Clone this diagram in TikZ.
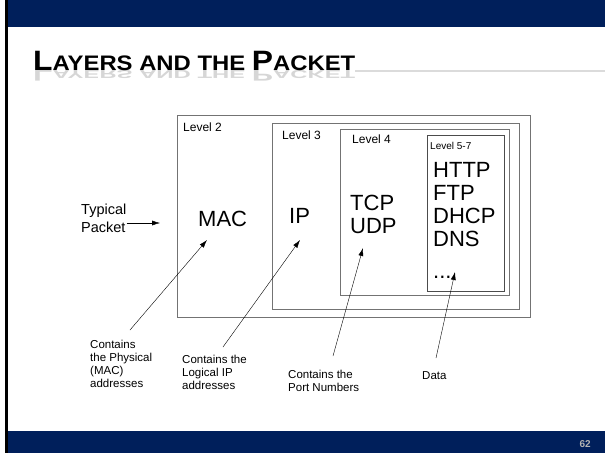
\documentclass[tikz,border=0pt]{standalone}
\usepackage{fontspec}
\setmainfont{Liberation Sans}
\usetikzlibrary{arrows.meta, positioning}
\definecolor{slidenavy}{RGB}{0,31,91}
\tikzstyle{layer}=[draw=black!55, line width=0.9pt]
\tikzstyle{lvl}=[anchor=base west, inner sep=0pt, font=\fontsize{12}{12}\selectfont]
\tikzstyle{proto}=[anchor=base west, inner sep=0pt, align=left, font=\fontsize{22}{23}\selectfont]
\tikzstyle{note}=[anchor=base west, inner sep=0pt, align=left, font=\fontsize{11.5}{13}\selectfont]
\tikzstyle{pointer}=[-{Latex[length=8pt,width=5pt]}, line width=0.4pt]
\newcommand{\titletext}{{\fontsize{28}{28}\selectfont L}AYERS AND THE {\fontsize{28}{28}\selectfont P}ACKET}

\begin{document}
\begin{tikzpicture}[x=1pt,y=-1pt]
    \useasboundingbox (0,0) rectangle (605,453);
    \fill[white] (0,0) rectangle (605,453);
    \fill[slidenavy] (5,0) rectangle (605,27);
    \fill[slidenavy] (5,431) rectangle (605,453);
    \fill[black] (5,0) rectangle (7.5,453);

    \node[anchor=base west, inner sep=0pt, text=black!16, font=\bfseries\fontsize{21}{21}\selectfont] (titlerefl) at (33,70.5) {\scalebox{1.136}[-0.55]{\titletext}};
    \node[anchor=base west, inner sep=0pt, font=\bfseries\fontsize{21}{21}\selectfont] (title) at (33,70) {\scalebox{1.136}[1]{\titletext}};
    \draw[black!14, line width=2pt] (title.base east) ++(0,1) -- (605,71);

    \draw[layer] (177,115) rectangle (530,317);
    \draw[layer] (272,123) rectangle (519,309);
    \draw[layer] (340,129) rectangle (509,295);
    \draw[layer, draw=black!70] (427,135) rectangle (504,291);

    \node[lvl] (l2) at (183,131) {Level 2};
    \node[lvl] (l3) at (282,139) {Level 3};
    \node[lvl] (l4) at (352,143) {Level 4};
    \node[lvl, font=\fontsize{10}{10}\selectfont] (l57) at (430,149) {Level 5-7};

    \node[proto] (mac) at (198,226) {MAC};
    \node[proto] (ip) at (289,223) {IP};
    \node[proto] (tcp) at (350,233) {TCP\\UDP};
    \node[proto] (apps) at (433,278) {HTTP\\FTP\\DHCP\\DNS\\[9pt]...};

    \node[anchor=base west, inner sep=0pt, align=left, font=\fontsize{14.5}{18}\selectfont] (pkt) at (81,232) {Typical\\Packet};
    \coordinate (pkttip) at (160,223);
    \draw[pointer] (pkt.east |- pkttip) -- (pkttip);

    \node[note] (phys) at (90,387) {Contains\\the Physical\\(MAC)\\addresses};
    \node[note] (logic) at (182,389) {Contains the\\Logical IP\\addresses};
    \node[note] (port) at (288,391) {Contains the\\Port Numbers};
    \node[note] (data) at (422,379) {Data};

    \coordinate (physptr) at (130,330);
    \coordinate (macptr) at (207,240);
    \coordinate (logicptr) at (223,347);
    \coordinate (ipptr) at (300,240);
    \coordinate (portptr) at (333,356);
    \coordinate (tcpptr) at (363,248);
    \coordinate (dataptr) at (436,358);
    \coordinate (appsptr) at (455,272);
    \draw[pointer] (physptr) -- (macptr);
    \draw[pointer] (logicptr) -- (ipptr);
    \draw[pointer] (portptr) -- (tcpptr);
    \draw[pointer] (dataptr) -- (appsptr);

    \node[anchor=east, inner sep=0pt, text=black!30, font=\bfseries\fontsize{10}{10}\selectfont] (pageno) at (591,444) {62};
\end{tikzpicture}
\end{document}
